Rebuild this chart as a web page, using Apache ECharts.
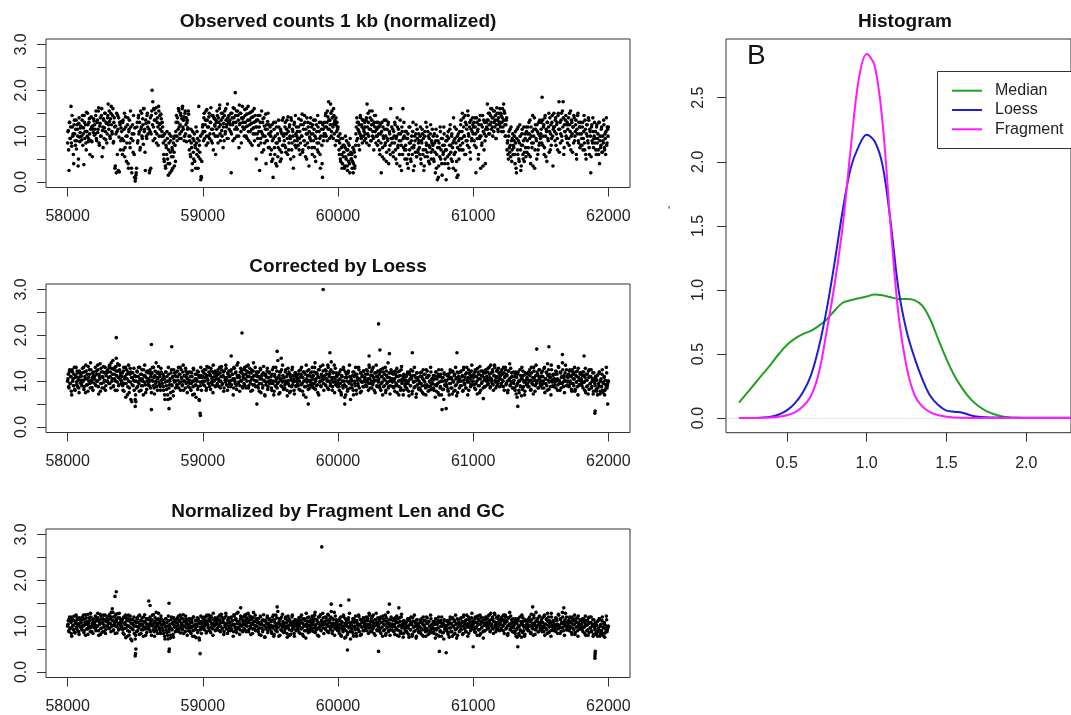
<!DOCTYPE html>
<html><head><meta charset="utf-8">
<script src="https://cdn.jsdelivr.net/npm/echarts@6/dist/echarts.min.js"></script>
<style>html,body{margin:0;padding:0;background:#fff}#c{width:1071px;height:715px}</style>
</head><body><div id="c"></div>
<script>
// ---------- data ----------
const binStart = 58000, binStep = 5, binOffset2 = 2.5;   // genomic bin positions (two interleaved passes)
const posTicks = [58000, 59000, 60000, 61000, 62000];
const valTicks = [0, 0.5, 1, 1.5, 2, 2.5, 3];
const valLabels = [0, 1, 2, 3];
const densXTicks = [0.5, 1, 1.5, 2];
const densYTicks = [0, 0.5, 1, 1.5, 2, 2.5];
const panelTitles = ['Observed counts 1 kb (normalized)', 'Corrected by Loess', 'Normalized by Fragment Len and GC', 'Histogram'];
const legendNames = ['Median', 'Loess', 'Fragment'];

const observed = [
0.85,1.12,0.25,1.3,0.95,1.65,0.78,1.2,1.05,0.4,1.35,0.9,1.15,0.72,1.25,1.0,0.5,1.4,0.88,1.18,
1.2,0.92,1.45,1.05,0.38,1.3,1.1,0.85,1.52,1.0,1.25,0.95,1.38,0.6,1.15,1.42,0.88,1.22,1.08,1.33,
1.25,1.05,1.55,0.9,1.35,1.15,1.62,0.8,1.28,1.0,1.45,0.55,1.2,1.38,0.95,1.5,1.1,1.3,0.85,1.4,
1.7,1.15,1.32,0.95,1.5,1.25,1.05,1.6,0.88,1.4,0.3,1.22,0.2,1.1,1.45,0.25,0.98,1.3,0.7,1.18,
1.1,0.6,1.35,0.9,1.5,0.75,1.2,0.45,1.0,1.4,0.3,1.15,0.85,1.55,0.95,0.2,1.25,0.65,1.05,0.1,
0.02,0.15,0.3,1.3,0.9,1.45,1.1,0.7,1.55,1.2,1.0,1.38,0.82,1.6,1.15,0.25,1.28,0.95,1.5,1.05,
1.3,0.2,1.1,0.3,1.45,2.0,1.75,1.2,1.58,0.95,1.35,1.62,1.05,1.4,0.8,1.55,1.25,1.15,1.48,1.0,
1.3,1.0,0.6,0.45,0.9,0.3,0.75,1.1,0.5,0.15,0.85,0.4,0.65,1.0,0.25,0.7,0.55,0.95,0.35,0.8,
1.1,1.45,0.9,1.3,1.6,1.2,1.05,1.5,0.95,1.38,1.65,1.15,1.42,1.0,1.55,1.25,0.88,1.35,1.18,1.48,
0.7,1.0,0.55,0.85,0.25,1.1,0.65,0.9,0.45,0.75,1.2,0.6,0.95,0.3,1.65,0.8,0.5,0.05,0.1,1.05,
1.25,0.9,1.5,1.1,1.35,0.8,1.58,1.2,1.0,1.42,0.95,1.3,1.62,1.15,0.85,1.45,1.05,1.38,1.22,0.6,
1.3,1.55,1.0,1.4,1.2,1.68,0.9,1.35,1.12,1.5,0.75,1.28,1.45,1.05,1.6,1.2,0.95,1.4,1.3,1.15,
1.35,1.1,0.2,1.5,1.25,1.62,1.4,0.95,1.95,1.3,1.55,1.15,1.45,1.0,1.68,1.28,1.5,0.85,1.38,1.2,
1.4,1.15,1.58,1.3,1.0,1.48,1.22,1.65,0.9,1.35,1.1,1.52,1.28,0.8,1.42,1.18,1.6,1.05,1.32,0.5,
1.2,0.95,1.45,1.1,0.25,1.3,0.85,1.55,1.05,1.38,0.7,1.22,1.0,1.48,0.9,1.15,1.32,0.75,1.25,1.05,
0.6,1.1,0.45,0.9,0.1,1.3,0.75,1.0,0.4,1.2,0.85,0.55,1.35,0.95,0.7,1.15,0.5,1.05,0.8,1.4,
1.05,0.8,1.3,0.65,1.15,0.95,1.42,0.7,1.2,1.0,0.5,1.35,0.85,1.1,0.3,1.25,0.9,1.45,0.75,1.0,
1.1,0.8,1.38,0.95,0.6,1.25,1.0,1.48,0.7,1.15,0.9,1.3,0.55,1.05,1.4,0.85,1.2,0.35,0.98,1.28,
0.9,1.2,0.6,1.05,1.35,0.75,1.0,0.45,1.25,0.85,1.45,0.65,1.1,0.95,0.3,1.3,0.8,0.1,1.15,1.0,
1.3,1.05,1.5,1.2,0.9,1.42,1.75,1.15,1.35,1.7,1.0,1.55,1.25,0.95,1.45,1.3,0.8,1.4,1.1,1.2,
1.2,0.9,0.6,1.05,0.45,0.75,0.3,0.95,0.55,0.8,0.35,1.0,0.5,0.7,0.25,0.85,0.6,0.4,0.95,0.65,
0.5,0.3,0.75,0.4,0.65,0.35,0.8,1.2,1.4,0.95,1.3,1.1,0.7,1.45,1.0,1.25,0.85,1.35,1.15,0.9,
1.2,0.95,1.4,1.7,1.05,1.3,0.8,1.55,1.15,0.9,1.35,1.0,1.25,0.7,1.45,1.1,0.85,1.3,1.0,1.2,
0.9,1.2,0.6,1.05,0.2,1.3,0.75,1.0,0.5,1.15,0.85,1.35,0.65,0.95,1.25,0.4,1.1,0.8,1.6,0.95,
0.85,1.15,0.55,1.0,1.3,0.7,0.95,0.4,1.2,0.8,1.05,0.6,1.35,0.9,0.25,1.1,1.6,0.75,1.0,0.5,
0.8,1.1,0.5,0.95,0.3,1.2,0.7,0.85,0.45,1.0,0.6,1.3,0.75,0.35,0.9,1.05,0.55,1.15,0.65,0.85,
0.9,0.6,1.2,0.4,0.85,1.05,0.7,0.25,1.0,0.55,1.3,0.8,0.65,1.1,0.45,0.95,0.75,1.25,0.5,0.85,
0.7,1.0,0.45,0.85,0.2,1.15,0.6,0.05,0.9,0.35,0.75,1.2,0.5,0.95,0.15,0.8,0.65,1.05,0.4,0.7,
0.05,0.9,0.55,1.1,0.3,0.8,1.25,0.65,1.0,0.45,0.85,1.4,0.6,0.95,0.25,1.15,0.1,0.75,1.05,0.5,
1.1,0.8,1.35,0.95,1.5,0.7,1.2,1.0,1.45,0.6,1.25,0.9,1.55,1.05,0.75,1.3,0.5,1.15,0.95,1.4,
1.05,1.3,0.8,1.2,0.2,1.4,0.95,1.15,0.6,1.35,1.0,0.3,1.25,0.85,1.45,1.1,0.7,1.3,0.4,1.0,
1.2,1.7,1.35,1.05,1.5,1.25,1.6,1.15,1.4,1.0,1.55,1.3,1.2,1.45,0.95,1.62,1.35,1.1,1.5,1.25,
1.3,1.5,1.1,1.4,1.2,1.7,1.55,1.25,1.0,1.35,0.7,0.9,0.5,1.1,0.65,0.8,1.2,0.45,0.95,0.6,
0.75,1.0,0.4,0.85,0.2,1.15,0.6,0.9,0.45,1.25,0.7,0.35,1.05,0.8,0.5,1.2,0.65,0.95,0.55,1.1,
0.9,1.2,0.6,1.05,1.35,0.4,1.0,0.75,1.45,0.85,1.15,0.3,1.25,0.95,0.5,1.1,0.7,1.3,0.85,1.0,
1.05,1.3,1.85,0.8,1.2,0.6,1.4,1.0,1.15,0.45,1.3,0.9,1.5,1.1,0.7,1.25,0.95,1.45,0.35,1.2,
1.2,0.9,1.4,1.05,1.3,0.7,1.5,1.75,1.15,0.85,1.35,1.0,1.55,1.75,0.6,1.25,1.1,1.45,0.95,1.3,
1.15,1.4,0.8,1.25,1.55,1.0,1.3,0.65,1.2,1.45,0.9,1.1,1.35,0.5,1.05,1.5,0.85,1.2,0.75,1.3,
1.05,0.8,1.3,0.95,1.45,0.7,1.15,0.5,1.25,1.0,0.85,1.35,0.6,1.1,0.2,1.2,0.9,1.4,0.75,1.0,
0.85,1.1,0.6,1.25,0.95,0.7,1.3,0.4,1.0,0.8,1.2,0.65,0.9,1.35,0.75,1.05,0.6,1.4,0.85,1.15,
1.2];
const observed2 = [
1.1,0.7,1.3,0.95,1.2,0.85,1.45,1.0,0.6,1.25,1.05,0.8,1.35,0.9,1.15,0.35,1.28,0.98,1.08,1.22,
1.0,1.35,0.8,1.18,1.45,0.95,1.25,0.7,1.1,1.5,0.88,1.3,1.05,1.4,0.9,1.2,0.55,1.15,1.38,1.02,
1.15,1.45,0.95,1.3,1.08,1.55,0.85,1.22,1.4,1.0,1.6,1.12,0.75,1.35,1.18,1.5,0.92,1.28,1.05,1.45,
1.25,1.55,1.0,1.38,1.65,1.1,1.45,0.85,1.3,1.2,0.35,1.05,1.5,0.6,1.15,1.4,0.22,1.25,0.9,1.32,
0.95,1.3,0.7,1.15,0.55,1.42,1.0,0.85,1.25,0.4,1.1,1.35,0.75,1.2,0.3,1.05,0.9,1.45,0.6,1.18,
0.08,0.2,1.2,0.85,1.4,1.05,1.3,0.75,1.15,1.5,0.95,1.25,1.6,1.1,0.65,1.35,1.0,1.45,1.2,1.3,
1.15,0.25,1.4,1.05,1.55,1.25,0.9,1.6,1.35,1.1,1.5,0.85,1.3,1.2,1.65,1.0,1.45,1.28,1.38,1.1,
1.2,0.85,0.5,1.05,0.35,0.8,0.6,0.95,0.4,0.7,1.05,0.2,0.9,0.55,0.75,0.3,0.85,0.65,1.0,0.45,
1.3,1.0,1.4,1.15,1.55,0.95,1.25,1.45,1.1,1.6,1.2,1.35,0.9,1.5,1.05,1.4,1.3,1.15,1.55,1.0,
0.9,0.6,1.15,0.75,0.4,0.95,0.5,1.05,0.8,0.3,0.85,1.1,0.7,0.55,0.9,0.65,1.0,0.12,0.45,1.2,
1.1,1.4,0.95,1.25,1.55,1.0,1.35,0.85,1.2,1.5,1.05,1.3,0.9,1.45,1.15,0.7,1.4,1.25,1.0,1.35,
1.15,1.45,0.85,1.3,1.6,1.05,1.25,1.5,1.0,1.4,1.2,0.9,1.55,1.1,1.35,1.25,1.7,0.95,1.45,1.3,
1.25,1.5,1.05,1.4,0.9,1.3,1.6,1.15,1.45,1.2,1.0,1.55,1.35,0.75,1.25,1.5,1.1,1.4,1.65,1.3,
1.3,1.0,1.45,1.2,1.6,0.95,1.35,1.1,1.5,1.25,0.85,1.4,1.15,1.55,1.05,1.3,0.9,1.45,1.2,1.35,
1.05,1.35,0.8,1.2,1.45,0.95,1.1,0.65,1.3,1.0,1.4,0.85,1.15,0.4,1.25,0.9,1.5,1.05,0.75,1.2,
1.0,0.7,1.25,0.5,0.95,1.15,0.6,1.3,0.85,0.35,1.05,0.75,1.2,0.9,0.45,1.1,0.65,1.35,0.8,1.0,
0.9,1.2,0.75,1.05,1.35,0.6,1.1,0.85,1.25,0.95,1.4,0.7,1.15,1.0,0.55,1.3,0.8,1.05,1.2,0.9,
0.95,1.2,0.7,1.1,0.85,1.35,1.0,0.65,1.25,0.9,1.45,0.8,1.15,0.5,1.05,1.3,0.75,1.1,0.95,1.4,
1.05,0.75,1.25,0.9,1.15,0.55,1.35,0.95,1.1,0.7,1.2,0.85,1.3,0.6,1.0,1.15,0.4,1.25,0.9,1.05,
1.2,1.45,1.0,1.3,1.55,1.15,1.35,0.95,1.25,1.5,1.1,1.4,1.2,1.6,1.05,1.35,1.25,0.9,1.3,1.15,
1.0,0.7,0.85,0.5,0.95,0.6,0.4,0.8,0.65,0.3,0.75,0.55,0.9,0.35,0.7,0.45,0.8,0.2,0.6,0.5,
0.6,0.45,0.2,0.7,0.3,0.55,1.05,0.9,1.3,1.15,0.8,1.25,1.05,1.4,0.95,1.2,1.35,1.0,1.1,1.3,
1.05,1.35,0.85,1.2,1.5,1.0,1.15,1.4,0.9,1.25,1.55,1.1,0.95,1.3,1.2,1.45,1.0,1.15,0.8,1.3,
1.05,0.7,1.25,0.85,1.1,0.55,1.2,0.95,1.35,0.8,1.0,0.45,1.15,0.9,1.3,0.7,1.05,0.6,0.95,1.2,
0.95,0.65,1.1,0.85,1.25,0.5,1.0,1.4,0.75,1.15,0.9,0.35,1.05,0.8,1.2,0.6,0.95,1.3,0.7,1.1,
0.7,0.95,0.4,1.05,0.6,0.85,1.2,0.5,0.9,0.75,1.1,0.25,0.8,1.0,0.65,1.25,0.55,0.95,0.7,1.05,
0.75,1.0,0.5,0.9,1.15,0.6,0.95,0.35,1.1,0.7,0.85,1.2,0.55,1.0,0.8,0.4,1.05,0.65,0.9,1.15,
0.8,0.5,1.05,0.65,0.9,0.3,1.0,0.75,0.1,0.85,0.55,1.1,0.7,0.4,0.95,0.6,1.2,0.8,0.5,0.9,
0.7,1.0,0.4,0.95,0.6,1.15,0.8,0.5,1.05,0.75,0.3,0.9,1.2,0.65,0.85,0.45,1.0,0.15,0.9,0.7,
0.95,1.25,0.7,1.1,0.85,1.4,1.0,0.6,1.3,0.9,1.15,0.8,1.45,1.0,1.2,0.65,1.35,0.9,1.1,1.25,
1.2,0.9,1.4,1.05,0.75,1.3,1.1,0.5,1.25,0.95,1.45,1.0,0.8,1.2,0.35,1.35,1.05,0.9,1.15,1.3,
1.35,1.15,1.5,1.25,1.05,1.45,1.3,1.6,1.2,1.4,1.1,1.55,1.35,0.95,1.25,1.5,1.15,1.4,1.3,1.6,
1.2,1.45,1.3,1.6,1.1,1.35,1.5,1.0,1.25,1.4,0.85,0.6,1.0,0.75,1.15,0.55,0.9,0.7,1.05,0.8,
0.9,0.6,1.1,0.3,0.95,0.7,1.2,0.5,0.85,1.0,0.25,0.8,1.15,0.6,0.9,0.45,1.05,0.75,1.2,0.65,
1.05,0.75,1.3,0.95,0.55,1.2,0.85,1.1,0.35,1.0,1.4,0.7,1.15,0.9,1.25,0.6,1.05,0.8,1.35,0.95,
1.15,0.85,1.35,1.0,1.25,0.75,1.45,0.55,1.1,1.3,0.95,1.2,0.65,1.4,1.05,0.8,1.3,1.0,1.15,1.5,
1.1,1.35,0.8,1.25,0.95,1.45,1.15,0.65,1.3,1.05,1.5,0.9,1.2,1.4,0.75,1.1,1.35,1.0,1.25,0.85,
1.25,0.95,1.5,1.1,0.7,1.35,1.05,1.2,0.85,1.4,1.0,1.25,0.6,1.15,1.45,0.9,1.3,1.05,1.2,0.8,
0.95,1.2,0.7,1.1,0.85,1.35,0.6,1.05,1.25,0.9,1.4,0.75,1.15,1.0,0.55,1.25,0.85,1.1,0.95,1.3,
0.95,0.7,1.2,0.85,1.05,0.6,1.3,0.9,0.75,1.15,0.65,1.0,0.85,1.25,0.7,0.95,1.1,0.8,1.2,1.0];

const loess = [
1.0,1.15,0.85,1.25,0.95,1.1,0.7,1.2,1.05,0.9,1.3,0.8,1.12,0.98,1.22,0.88,1.08,0.75,1.18,1.02,
1.1,0.9,1.28,1.0,0.82,1.2,1.05,1.35,0.92,1.15,0.78,1.08,1.25,0.95,1.4,1.02,0.86,1.18,1.12,0.96,
1.05,1.3,0.9,1.15,1.0,1.25,0.72,1.1,1.38,0.95,1.2,0.85,1.08,1.32,0.98,1.18,0.8,1.12,1.22,1.0,
1.2,0.95,1.35,1.1,0.85,1.28,1.05,1.45,0.9,1.15,1.3,1.0,1.22,0.8,1.38,1.08,0.92,1.25,1.12,1.02,
1.0,1.18,0.8,1.3,0.95,1.1,0.65,1.25,1.05,0.88,1.35,0.75,1.15,0.98,1.2,0.55,1.08,0.9,1.28,1.0,
0.6,1.1,0.85,1.2,0.98,1.3,0.78,1.05,1.15,0.9,1.25,1.0,0.7,1.12,1.35,0.92,1.08,0.82,1.22,1.02,
1.05,0.9,1.25,1.1,0.75,1.18,1.0,1.3,0.85,1.12,0.95,1.4,1.08,0.8,1.2,0.98,1.15,0.88,1.28,1.02,
0.95,1.15,0.8,1.05,0.6,1.2,0.9,1.1,0.7,1.3,0.85,1.0,0.62,1.18,0.92,1.08,0.78,1.25,0.98,1.12,
1.0,1.2,0.88,1.1,1.3,0.95,1.15,0.8,1.25,1.05,0.92,1.35,1.0,1.12,0.85,1.22,1.08,0.75,1.18,0.98,
1.02,0.85,1.2,0.95,1.1,0.7,1.28,1.0,0.9,1.15,0.65,1.05,1.22,0.88,1.12,0.58,0.98,1.3,0.8,1.08,
1.1,0.92,1.25,1.0,1.15,0.8,1.32,1.05,0.95,1.2,0.88,1.12,1.28,0.98,1.08,0.75,1.18,1.02,1.22,0.9,
1.05,1.2,0.9,1.15,1.0,1.3,0.85,1.1,1.25,0.95,1.12,0.78,1.22,1.02,1.35,0.92,1.08,1.18,0.88,1.0,
1.1,0.88,1.25,1.02,1.15,0.7,1.3,1.05,0.95,1.2,0.82,1.12,1.4,0.98,1.08,0.9,1.28,1.0,1.18,0.85,
1.15,0.95,1.3,1.05,0.85,1.22,1.1,1.35,0.9,1.18,1.0,0.78,1.25,1.08,0.92,1.4,1.02,1.12,0.88,1.2,
1.0,1.2,0.85,1.1,0.95,1.28,0.75,1.05,1.15,0.9,1.32,1.0,0.68,1.12,0.98,1.22,0.82,1.08,1.18,0.95,
0.95,1.1,0.8,1.25,1.0,0.7,1.15,0.9,1.3,1.05,0.85,1.45,0.98,1.12,0.75,1.2,1.02,0.88,1.35,1.08,
1.0,0.85,1.2,0.95,1.1,0.68,1.28,1.02,0.9,1.15,0.78,1.05,1.25,0.92,1.12,0.8,1.0,1.18,0.88,1.08,
1.05,0.9,1.22,1.0,0.8,1.15,1.3,0.95,1.08,0.7,1.2,1.02,0.88,1.35,0.98,1.12,0.82,1.25,1.0,0.92,
1.1,0.95,1.3,1.05,0.85,1.2,1.4,1.0,0.9,1.15,0.75,1.25,1.08,0.98,1.32,0.88,1.12,1.02,1.22,0.8,
1.05,1.25,0.9,1.15,1.0,1.35,0.82,1.1,1.2,0.95,1.42,1.02,0.88,1.18,1.08,0.75,1.28,0.98,1.12,1.0,
0.95,1.15,0.8,1.05,1.25,0.7,1.1,0.9,1.3,1.0,0.65,1.2,0.88,1.08,0.78,1.18,0.98,1.35,0.85,1.02,
1.0,0.85,1.2,0.7,1.1,0.95,1.3,0.8,1.15,1.02,0.9,1.25,1.05,0.75,1.18,0.98,1.12,0.88,1.22,1.0,
1.08,0.92,1.25,1.0,1.15,0.8,1.35,1.05,0.95,1.2,0.85,1.12,1.3,0.98,1.02,0.75,1.18,1.1,0.88,1.22,
1.0,1.15,0.85,1.25,0.95,1.1,0.7,1.2,1.05,0.9,1.3,0.8,1.12,0.98,1.4,0.88,1.08,0.72,1.18,1.02,
1.05,0.88,1.2,1.0,0.78,1.15,0.95,1.28,0.9,1.1,0.7,1.22,1.02,0.85,1.32,0.98,1.12,0.8,1.08,0.92,
0.95,1.1,0.82,1.2,1.0,0.68,1.15,0.9,1.25,1.05,0.78,1.12,0.98,1.3,0.88,1.08,0.72,1.18,1.02,0.85,
1.0,0.85,1.18,0.95,1.1,0.75,1.25,1.02,0.9,1.15,0.7,1.08,1.22,0.88,1.12,0.8,0.98,1.3,0.92,1.05,
0.95,1.12,0.8,1.05,0.65,1.2,0.9,1.1,0.75,1.25,0.98,0.85,1.15,0.7,1.08,1.0,0.82,1.18,0.92,1.02,
1.0,0.88,1.15,0.78,1.1,0.95,1.25,0.85,1.05,0.72,1.2,0.98,1.12,0.8,1.3,0.92,1.08,0.75,1.18,1.02,
1.05,0.9,1.22,1.0,1.12,0.8,1.3,0.95,1.08,0.85,1.18,1.02,0.7,1.25,0.98,1.15,0.88,1.1,1.35,0.92,
1.0,1.15,0.85,1.25,0.95,1.1,0.72,1.2,1.05,0.9,1.32,0.8,1.12,0.98,1.22,0.62,1.08,0.88,1.18,1.02,
1.1,0.92,1.28,1.02,1.15,0.85,1.35,1.05,0.95,1.2,0.8,1.12,1.3,0.98,1.08,0.9,1.25,1.0,1.18,0.88,
1.05,1.2,0.9,1.15,1.0,1.3,0.8,1.1,1.25,0.95,1.12,0.75,1.22,1.02,1.38,0.92,1.08,1.18,0.85,1.0,
0.95,1.1,0.8,1.2,0.9,0.65,1.15,1.0,0.75,1.25,0.88,1.05,1.3,0.82,1.12,0.98,0.7,1.18,1.02,0.92,
1.05,0.88,1.2,1.0,1.12,0.8,1.3,0.95,1.08,0.72,1.22,1.02,0.9,1.35,0.98,1.15,0.85,1.1,1.25,0.95,
1.0,1.18,0.85,1.1,0.95,1.28,0.75,1.05,1.2,0.9,1.38,1.02,0.82,1.15,1.08,0.7,1.25,0.98,1.12,0.88,
1.05,0.92,1.22,1.0,1.15,0.8,1.32,1.02,0.95,1.2,0.85,1.1,1.4,0.98,1.08,0.75,1.18,1.0,1.25,0.9,
1.0,1.15,0.88,1.25,0.95,1.1,0.78,1.2,1.05,0.9,1.3,0.82,1.12,0.98,1.22,0.7,1.08,0.92,1.18,1.02,
1.05,0.9,1.2,0.98,1.12,0.8,1.28,1.02,0.88,1.15,0.72,1.08,1.25,0.95,1.1,0.85,1.0,1.18,0.78,1.05,
0.95,1.1,0.82,1.02,0.7,1.15,0.9,1.2,0.78,1.05,0.88,1.25,0.75,0.98,1.1,0.8,0.92,1.3,0.85,0.95,
1.0];
const loess2 = [
1.05,0.88,1.2,0.95,1.1,0.78,1.25,1.0,0.9,1.15,0.82,1.08,1.3,0.92,1.18,1.02,0.85,1.22,0.96,1.12,
0.95,1.18,1.02,1.3,0.88,1.1,0.75,1.22,1.05,0.92,1.32,1.0,1.15,0.85,1.25,0.98,1.08,0.8,1.2,1.05,
1.12,0.92,1.22,1.0,1.35,0.88,1.15,1.05,0.78,1.28,0.95,1.1,1.2,0.85,1.02,1.3,0.9,1.18,1.0,1.25,
1.08,1.3,0.95,1.2,1.4,1.0,1.15,0.88,1.25,1.05,0.8,1.32,1.12,0.98,1.22,0.9,1.35,1.05,1.18,0.95,
1.1,0.9,1.22,0.78,1.05,1.3,0.95,1.15,0.7,1.2,1.0,0.85,1.28,0.6,1.08,0.92,1.18,1.02,0.8,1.12,
0.7,1.0,1.22,0.88,1.1,0.95,1.3,1.02,0.8,1.15,1.05,0.9,1.25,0.98,1.12,0.75,1.2,1.0,0.92,1.18,
0.98,1.2,0.85,1.15,1.02,1.3,0.9,1.08,0.72,1.22,1.0,0.88,1.18,1.05,1.32,0.92,1.1,0.8,1.2,0.95,
1.05,0.88,1.1,0.7,0.98,1.2,0.82,1.0,0.6,1.15,0.92,1.05,0.75,1.25,0.9,1.1,0.68,1.02,1.18,0.85,
1.1,0.92,1.22,1.02,0.85,1.15,1.3,0.98,1.08,0.9,1.2,0.8,1.12,1.0,1.28,0.95,1.15,1.05,0.88,1.2,
0.95,1.1,0.8,1.18,1.0,0.88,1.25,0.72,1.05,0.92,1.15,1.0,0.82,1.2,0.6,1.08,0.9,1.12,0.98,1.22,
1.0,1.18,0.9,1.08,1.25,0.85,1.12,1.02,1.3,0.95,1.15,0.82,1.22,1.05,0.92,1.35,1.0,1.1,0.88,1.15,
1.12,0.95,1.25,1.05,0.88,1.18,1.0,1.32,0.92,1.1,1.2,0.85,1.08,0.98,1.28,1.02,0.8,1.15,1.22,0.95,
1.0,1.22,0.92,1.15,1.05,0.85,1.28,1.0,1.18,0.9,1.35,1.08,0.95,1.12,0.78,1.2,1.02,1.25,0.88,1.1,
1.05,1.25,0.9,1.15,1.32,1.0,1.2,0.85,1.1,1.28,0.95,1.18,1.05,0.8,1.22,1.12,0.92,1.3,1.0,1.15,
1.1,0.9,1.2,0.78,1.05,1.25,0.95,1.12,0.85,1.18,1.02,0.7,1.15,0.92,1.08,1.28,0.88,1.0,1.2,0.95,
1.02,0.85,1.15,0.95,1.3,0.78,1.1,1.0,0.88,1.22,0.95,1.08,0.72,1.2,1.05,0.9,1.25,0.98,1.12,0.82,
1.08,0.92,1.25,1.0,0.8,1.15,0.95,1.2,0.75,1.1,1.02,0.88,1.3,0.98,1.05,0.72,1.18,0.9,1.12,1.0,
0.95,1.15,0.82,1.08,1.25,0.92,1.1,0.78,1.2,1.0,0.88,1.15,0.65,1.05,1.22,0.9,1.12,1.02,0.85,1.18,
1.02,1.2,0.88,1.12,0.95,1.3,0.82,1.05,1.18,0.92,1.1,0.7,1.25,1.0,0.9,1.15,1.05,1.35,0.95,1.1,
1.12,0.92,1.22,1.05,0.85,1.3,1.0,1.15,0.9,1.25,1.08,0.8,1.2,0.98,1.35,1.05,0.92,1.18,1.1,0.88,
1.02,0.88,1.2,0.95,0.75,1.12,1.0,0.85,1.25,0.92,1.08,0.7,1.15,1.0,0.82,1.22,0.95,1.1,0.6,1.05,
0.92,1.12,0.8,1.2,1.0,0.9,1.15,0.72,1.08,0.95,1.3,0.85,1.02,1.18,0.78,1.1,0.98,1.22,0.88,1.05,
1.15,1.0,0.88,1.22,1.05,0.95,1.3,0.85,1.12,1.0,1.25,0.92,1.08,0.8,1.18,1.02,1.35,0.9,1.1,0.98,
1.05,0.9,1.2,0.8,1.1,0.98,1.28,0.88,1.15,1.02,0.75,1.22,0.95,1.08,0.85,1.18,1.0,0.9,1.25,1.05,
0.98,1.15,0.85,1.05,1.22,0.9,1.1,0.75,1.2,1.0,0.88,1.12,0.8,1.25,0.95,1.05,0.7,1.15,1.02,0.88,
1.02,0.85,1.15,0.95,0.78,1.2,1.05,0.9,1.1,0.72,1.22,0.98,0.85,1.12,1.0,0.65,1.18,0.92,1.08,0.82,
0.95,1.1,0.8,1.2,0.9,1.05,0.72,1.15,0.98,0.85,1.25,0.92,1.08,0.78,1.12,1.0,0.88,1.2,0.82,1.05,
1.02,0.85,1.12,0.92,1.2,0.78,1.05,0.95,1.15,0.7,1.1,0.88,1.0,1.25,0.82,1.08,0.6,1.15,0.9,1.0,
0.92,1.12,0.82,1.05,0.7,1.18,0.95,1.08,0.85,1.22,1.0,0.78,1.15,0.9,1.05,0.68,1.2,0.98,1.1,0.85,
1.0,1.2,0.9,1.1,0.78,1.25,1.02,0.92,1.15,0.85,1.3,0.98,1.08,0.8,1.18,1.05,0.92,1.22,1.0,1.12,
1.08,0.92,1.2,0.82,1.1,1.0,1.28,0.9,1.15,0.75,1.05,1.22,0.95,1.12,0.85,1.18,1.02,0.88,1.25,1.0,
1.05,1.2,0.95,1.3,1.08,0.88,1.18,1.0,1.25,0.92,1.12,1.35,1.02,0.85,1.22,1.1,0.95,1.28,1.05,1.15,
1.12,0.95,1.25,1.02,0.88,1.18,1.08,1.3,0.92,1.15,1.0,0.8,1.22,1.05,0.9,1.28,0.98,1.1,0.85,1.2,
1.02,0.85,1.15,0.72,1.08,0.95,1.2,0.8,1.0,0.9,1.12,0.68,1.05,1.22,0.88,1.0,0.78,1.15,0.95,1.08,
0.95,1.15,0.88,1.25,1.02,0.82,1.18,1.0,0.92,1.3,1.08,0.78,1.12,0.95,1.2,1.02,0.85,1.25,1.05,0.9,
1.1,0.92,1.22,1.0,0.85,1.3,1.05,0.95,1.18,0.8,1.12,1.25,0.98,1.08,0.88,1.35,1.02,0.9,1.15,1.05,
0.98,1.15,0.85,1.2,1.05,0.92,1.3,1.0,0.8,1.18,1.08,0.95,1.25,0.88,1.12,1.02,1.35,0.9,1.1,0.98,
1.08,0.9,1.22,1.0,1.12,0.82,1.25,0.95,1.15,1.05,0.78,1.2,0.98,1.1,0.88,1.28,1.02,0.92,1.15,1.0,
0.95,1.12,0.85,1.2,0.98,1.08,0.75,1.15,1.02,0.9,1.22,0.82,1.1,0.95,1.25,0.88,1.05,0.72,1.18,1.0,
0.9,1.05,0.78,1.12,0.85,0.95,1.2,0.72,1.0,0.88,1.15,0.8,0.95,1.08,0.7,1.02,0.85,1.18,0.9,1.0];
const loessOutliers = [
[58360,1.95],[58620,1.8],[58770,1.75],[59290,2.05],[59890,3.0],[60300,2.25],[60310,1.68],[61560,1.75],
[61470,1.7],[59550,1.65],[59940,1.62],[60550,1.62],[60880,1.62],[58360,1.5],[59580,1.5],[59210,1.55],
[60230,1.55],[60380,1.6],[61820,1.55],[61660,1.58],[58500,0.45],[58505,0.55],[58620,0.38],[58750,0.4],
[58980,0.3],[58982,0.25],[59400,0.5],[59780,0.5],[60050,0.5],[60770,0.38],[60800,0.4],[61330,0.45],
[61900,0.3],[61902,0.35],[61995,0.5]];

const fragment = [
1.0,1.12,0.88,1.2,0.95,1.08,0.78,1.15,1.02,0.92,1.22,0.85,1.1,0.98,1.18,0.9,1.05,0.82,1.14,1.0,
1.08,0.92,1.2,1.0,0.86,1.15,1.03,1.25,0.94,1.1,0.82,1.06,1.18,0.96,1.28,1.0,0.88,1.14,1.08,0.97,
1.04,1.22,0.9,1.12,1.0,1.18,0.8,1.08,1.26,0.95,1.15,0.87,1.06,1.24,0.98,1.13,0.84,1.1,1.17,1.0,
1.12,0.95,1.25,1.06,0.88,1.2,1.02,1.3,0.92,1.1,1.22,1.0,1.15,0.85,1.27,1.05,0.93,1.18,1.08,1.0,
1.0,1.14,0.85,1.2,0.95,1.08,0.75,1.18,1.02,0.9,1.24,0.8,1.1,0.97,1.15,0.68,1.05,0.92,1.2,1.0,
0.72,1.08,0.88,1.15,0.98,1.22,0.82,1.04,1.12,0.92,1.18,1.0,0.78,1.1,1.25,0.94,1.06,0.86,1.16,1.02,
1.04,0.92,1.2,1.08,0.8,1.14,1.0,1.25,0.88,1.1,0.96,1.3,1.06,0.84,1.16,0.98,1.12,0.9,1.22,1.02,
0.96,1.12,0.84,1.04,0.72,1.16,0.92,1.08,0.8,1.22,0.88,1.0,0.74,1.14,0.94,1.06,0.82,1.18,0.98,1.1,
1.0,1.15,0.9,1.08,1.22,0.95,1.12,0.85,1.18,1.04,0.93,1.25,1.0,1.1,0.88,1.16,1.06,0.8,1.13,0.98,
1.02,0.88,1.16,0.96,1.08,0.78,1.2,1.0,0.92,1.12,0.75,1.04,1.18,0.9,1.1,0.7,0.98,1.22,0.84,1.06,
1.08,0.94,1.2,1.0,1.12,0.85,1.24,1.04,0.96,1.16,0.9,1.1,1.22,0.98,1.06,0.8,1.14,1.02,1.18,0.92,
1.04,1.16,0.92,1.12,1.0,1.24,0.88,1.08,1.2,0.96,1.1,0.82,1.18,1.02,1.28,0.94,1.06,1.14,0.9,1.0,
1.08,0.9,1.2,1.02,1.12,0.78,1.25,1.04,0.96,1.16,0.86,1.1,1.3,0.98,1.06,0.92,1.22,1.0,1.14,0.88,
1.12,0.96,1.24,1.04,0.88,1.18,1.08,1.28,0.92,1.14,1.0,0.82,1.2,1.06,0.94,1.3,1.02,1.1,0.9,1.16,
1.0,1.16,0.88,1.08,0.96,1.22,0.8,1.04,1.12,0.92,1.25,1.0,0.76,1.1,0.98,1.18,0.86,1.06,1.14,0.95,
0.96,1.1,0.84,1.2,1.0,0.78,1.14,0.92,1.24,1.04,0.88,1.32,0.98,1.1,0.8,1.16,1.02,0.9,1.26,1.06,
1.0,0.88,1.16,0.96,1.08,0.76,1.22,1.02,0.92,1.12,0.82,1.04,1.2,0.94,1.1,0.84,1.0,1.14,0.9,1.06,
1.04,0.92,1.18,1.0,0.84,1.12,1.24,0.96,1.06,0.78,1.16,1.02,0.9,1.28,0.98,1.1,0.86,1.2,1.0,0.94,
1.08,0.96,1.22,1.04,0.88,1.16,1.3,1.0,0.92,1.12,0.8,1.2,1.06,0.98,1.25,0.9,1.1,1.02,1.18,0.84,
1.04,1.2,0.92,1.12,1.0,1.26,0.86,1.08,1.16,0.96,1.32,1.02,0.9,1.14,1.06,0.8,1.22,0.98,1.1,1.0,
0.96,1.12,0.84,1.04,1.2,0.78,1.08,0.92,1.24,1.0,0.74,1.16,0.9,1.06,0.82,1.14,0.98,1.28,0.88,1.02,
1.0,0.88,1.16,0.78,1.08,0.96,1.22,0.84,1.12,1.02,0.92,1.2,1.04,0.8,1.14,0.98,1.1,0.9,1.18,1.0,
1.06,0.94,1.2,1.0,1.12,0.84,1.28,1.04,0.96,1.16,0.88,1.1,1.24,0.98,1.02,0.8,1.14,1.08,0.9,1.18,
1.0,1.12,0.88,1.2,0.96,1.08,0.78,1.16,1.04,0.92,1.24,0.84,1.1,0.98,1.3,0.9,1.06,0.8,1.14,1.02,
1.04,0.9,1.16,1.0,0.82,1.12,0.96,1.22,0.92,1.08,0.78,1.18,1.02,0.88,1.26,0.98,1.1,0.84,1.06,0.94,
0.96,1.08,0.86,1.16,1.0,0.76,1.12,0.92,1.2,1.04,0.82,1.1,0.98,1.24,0.9,1.06,0.78,1.14,1.02,0.88,
1.0,0.88,1.14,0.96,1.08,0.8,1.2,1.02,0.92,1.12,0.78,1.06,1.18,0.9,1.1,0.84,0.98,1.24,0.94,1.04,
0.96,1.1,0.84,1.04,0.74,1.16,0.92,1.08,0.8,1.2,0.98,0.88,1.12,0.78,1.06,1.0,0.86,1.14,0.94,1.02,
1.0,0.9,1.12,0.82,1.08,0.96,1.2,0.88,1.04,0.78,1.16,0.98,1.1,0.84,1.24,0.94,1.06,0.8,1.14,1.02,
1.04,0.92,1.18,1.0,1.1,0.84,1.24,0.96,1.06,0.88,1.14,1.02,0.78,1.2,0.98,1.12,0.9,1.08,1.28,0.94,
1.0,1.12,0.88,1.2,0.96,1.08,0.8,1.16,1.04,0.92,1.24,0.84,1.1,0.98,1.18,0.74,1.06,0.9,1.14,1.02,
1.08,0.94,1.22,1.02,1.12,0.88,1.28,1.04,0.96,1.16,0.84,1.1,1.25,0.98,1.06,0.92,1.2,1.0,1.14,0.9,
1.04,1.16,0.92,1.12,1.0,1.24,0.84,1.08,1.2,0.96,1.1,0.8,1.18,1.02,1.3,0.94,1.06,1.14,0.88,1.0,
0.96,1.08,0.84,1.16,0.92,0.76,1.12,1.0,0.8,1.2,0.9,1.04,1.24,0.86,1.1,0.98,0.78,1.14,1.02,0.94,
1.04,0.9,1.16,1.0,1.1,0.84,1.26,0.96,1.06,0.8,1.18,1.02,0.92,1.3,0.98,1.12,0.88,1.08,1.22,0.96,
1.0,1.14,0.88,1.08,0.96,1.22,0.8,1.04,1.16,0.92,1.28,1.02,0.86,1.12,1.06,0.78,1.2,0.98,1.1,0.9,
1.04,0.94,1.18,1.0,1.12,0.84,1.26,1.02,0.96,1.16,0.88,1.08,1.3,0.98,1.06,0.8,1.14,1.0,1.2,0.92,
1.0,1.12,0.9,1.2,0.96,1.08,0.82,1.16,1.04,0.92,1.24,0.86,1.1,0.98,1.18,0.78,1.06,0.94,1.14,1.02,
1.04,0.92,1.16,0.98,1.1,0.84,1.22,1.02,0.9,1.12,0.8,1.06,1.2,0.96,1.08,0.88,1.0,1.14,0.82,1.04,
0.96,1.08,0.86,1.02,0.78,1.12,0.92,1.16,0.84,1.04,0.9,1.2,0.8,0.98,1.08,0.85,0.94,1.22,0.88,0.96,
1.0];
const fragment2 = [
1.04,0.9,1.16,0.96,1.1,0.84,1.2,1.0,0.92,1.12,0.86,1.06,1.24,0.94,1.14,1.02,0.88,1.18,0.98,1.08,
0.96,1.14,1.02,1.24,0.9,1.08,0.8,1.18,1.04,0.94,1.26,1.0,1.12,0.88,1.2,0.98,1.06,0.84,1.16,1.04,
1.1,0.94,1.18,1.0,1.28,0.9,1.12,1.04,0.82,1.22,0.96,1.08,1.16,0.88,1.02,1.24,0.92,1.14,1.0,1.2,
1.06,1.24,0.96,1.16,1.3,1.0,1.12,0.9,1.2,1.04,0.84,1.26,1.1,0.98,1.18,0.92,1.28,1.04,1.14,0.96,
1.08,0.92,1.18,0.82,1.04,1.24,0.96,1.12,0.78,1.16,1.0,0.88,1.22,0.72,1.06,0.94,1.14,1.02,0.84,1.1,
0.8,1.0,1.18,0.9,1.08,0.96,1.24,1.02,0.84,1.12,1.04,0.92,1.2,0.98,1.1,0.8,1.16,1.0,0.94,1.14,
0.98,1.16,0.88,1.12,1.02,1.24,0.92,1.06,0.78,1.18,1.0,0.9,1.14,1.04,1.28,0.94,1.08,0.84,1.16,0.96,
1.04,0.9,1.08,0.78,0.98,1.16,0.86,1.0,0.72,1.12,0.94,1.04,0.8,1.2,0.92,1.08,0.76,1.02,1.14,0.88,
1.08,0.94,1.18,1.02,0.88,1.12,1.24,0.98,1.06,0.92,1.16,0.84,1.1,1.0,1.22,0.96,1.12,1.04,0.9,1.16,
0.96,1.08,0.84,1.14,1.0,0.9,1.2,0.78,1.04,0.94,1.12,1.0,0.86,1.16,0.74,1.06,0.92,1.1,0.98,1.18,
1.0,1.14,0.92,1.06,1.2,0.88,1.1,1.02,1.24,0.96,1.12,0.86,1.18,1.04,0.94,1.28,1.0,1.08,0.9,1.12,
1.1,0.96,1.2,1.04,0.9,1.14,1.0,1.26,0.94,1.08,1.16,0.88,1.06,0.98,1.22,1.02,0.84,1.12,1.18,0.96,
1.0,1.18,0.94,1.12,1.04,0.88,1.22,1.0,1.14,0.92,1.28,1.06,0.96,1.1,0.82,1.16,1.02,1.2,0.9,1.08,
1.04,1.2,0.92,1.12,1.26,1.0,1.16,0.88,1.08,1.22,0.96,1.14,1.04,0.84,1.18,1.1,0.94,1.24,1.0,1.12,
1.08,0.92,1.16,0.82,1.04,1.2,0.96,1.1,0.88,1.14,1.02,0.76,1.12,0.94,1.06,1.22,0.9,1.0,1.16,0.96,
1.02,0.88,1.12,0.96,1.24,0.82,1.08,1.0,0.9,1.18,0.96,1.06,0.78,1.16,1.04,0.92,1.2,0.98,1.1,0.86,
1.06,0.94,1.2,1.0,0.84,1.12,0.96,1.16,0.8,1.08,1.02,0.9,1.24,0.98,1.04,0.78,1.14,0.92,1.1,1.0,
0.96,1.12,0.86,1.06,1.2,0.94,1.08,0.82,1.16,1.0,0.9,1.12,0.74,1.04,1.18,0.92,1.1,1.02,0.88,1.14,
1.02,1.16,0.9,1.1,0.96,1.24,0.86,1.04,1.14,0.94,1.08,0.78,1.2,1.0,0.92,1.12,1.04,1.28,0.96,1.08,
1.1,0.94,1.18,1.04,0.88,1.24,1.0,1.12,0.92,1.2,1.06,0.84,1.16,0.98,1.3,1.04,0.94,1.14,1.08,0.9,
1.02,0.9,1.16,0.96,0.8,1.1,1.0,0.88,1.2,0.94,1.06,0.76,1.12,1.0,0.86,1.18,0.96,1.08,0.72,1.04,
0.94,1.1,0.84,1.16,1.0,0.92,1.12,0.78,1.06,0.96,1.24,0.88,1.02,1.14,0.82,1.08,0.98,1.18,0.9,1.04,
1.12,1.0,0.9,1.18,1.04,0.96,1.24,0.88,1.1,1.0,1.2,0.94,1.06,0.84,1.14,1.02,1.28,0.92,1.08,0.98,
1.04,0.92,1.16,0.84,1.08,0.98,1.22,0.9,1.12,1.02,0.8,1.18,0.96,1.06,0.88,1.14,1.0,0.92,1.2,1.04,
0.98,1.12,0.88,1.04,1.18,0.92,1.08,0.8,1.16,1.0,0.9,1.1,0.84,1.2,0.96,1.04,0.76,1.12,1.02,0.9,
1.02,0.88,1.12,0.96,0.82,1.16,1.04,0.92,1.08,0.78,1.18,0.98,0.88,1.1,1.0,0.74,1.14,0.94,1.06,0.86,
0.96,1.08,0.84,1.16,0.92,1.04,0.78,1.12,0.98,0.88,1.2,0.94,1.06,0.82,1.1,1.0,0.9,1.16,0.86,1.04,
1.02,0.88,1.1,0.94,1.16,0.82,1.04,0.96,1.12,0.78,1.08,0.9,1.0,1.2,0.86,1.06,0.72,1.12,0.92,1.0,
0.94,1.1,0.86,1.04,0.76,1.14,0.96,1.06,0.88,1.18,1.0,0.82,1.12,0.92,1.04,0.74,1.16,0.98,1.08,0.88,
1.0,1.16,0.92,1.08,0.82,1.2,1.02,0.94,1.12,0.88,1.24,0.98,1.06,0.84,1.14,1.04,0.94,1.18,1.0,1.1,
1.06,0.94,1.16,0.86,1.08,1.0,1.22,0.92,1.12,0.8,1.04,1.18,0.96,1.1,0.88,1.14,1.02,0.9,1.2,1.0,
1.04,1.16,0.96,1.24,1.06,0.9,1.14,1.0,1.2,0.94,1.1,1.28,1.02,0.88,1.18,1.08,0.96,1.22,1.04,1.12,
1.1,0.96,1.2,1.02,0.9,1.14,1.06,1.24,0.94,1.12,1.0,0.84,1.18,1.04,0.92,1.22,0.98,1.08,0.88,1.16,
1.02,0.88,1.12,0.78,1.06,0.96,1.16,0.84,1.0,0.92,1.1,0.76,1.04,1.18,0.9,1.0,0.82,1.12,0.96,1.06,
0.96,1.12,0.9,1.2,1.02,0.86,1.14,1.0,0.94,1.24,1.06,0.82,1.1,0.96,1.16,1.02,0.88,1.2,1.04,0.92,
1.08,0.94,1.18,1.0,0.88,1.24,1.04,0.96,1.14,0.84,1.1,1.2,0.98,1.06,0.9,1.28,1.02,0.92,1.12,1.04,
0.98,1.12,0.88,1.16,1.04,0.94,1.24,1.0,0.84,1.14,1.06,0.96,1.2,0.9,1.1,1.02,1.28,0.92,1.08,0.98,
1.06,0.92,1.18,1.0,1.1,0.86,1.2,0.96,1.12,1.04,0.82,1.16,0.98,1.08,0.9,1.22,1.02,0.94,1.12,1.0,
0.96,1.1,0.88,1.16,0.98,1.06,0.8,1.12,1.02,0.92,1.18,0.86,1.08,0.96,1.2,0.9,1.04,0.78,1.14,1.0,
0.92,1.04,0.82,1.1,0.88,0.96,1.16,0.78,1.0,0.9,1.12,0.84,0.96,1.06,0.76,1.02,0.88,1.14,0.92,0.98];
const fragmentOutliers = [
[58350,1.65],[58360,1.75],[58600,1.55],[58610,1.45],[58750,1.5],[59880,2.73],[60080,1.57],[59950,1.48],
[60380,1.48],[59550,1.42],[60020,1.45],[61440,1.42],[61670,1.4],[58330,1.38],[59280,1.4],[60450,1.4],
[61900,0.3],[61901,0.35],[61902,0.4],[61903,0.45],[58500,0.35],[58502,0.4],[58505,0.5],[58750,0.45],
[58752,0.5],[58980,0.4],[60070,0.48],[60300,0.45],[60750,0.45],[60800,0.42],[61000,0.55],[61330,0.55]];

// density curves (Histogram panel)
const densX = [0.2,0.25,0.3,0.35,0.4,0.45,0.5,0.55,0.6,0.65,0.7,0.75,0.8,0.85,0.9,0.95,1.0,1.05,1.1,1.15,1.2,
  1.25,1.3,1.35,1.4,1.45,1.5,1.55,1.6,1.65,1.7,1.75,1.8,1.85,1.9,1.95,2.0,2.05,2.1,2.15,2.2,2.25,2.3,2.35];
const densMedian = [0.12,0.195,0.27,0.345,0.42,0.5,0.57,0.62,0.655,0.68,0.72,0.77,0.84,0.9,0.92,0.935,0.948,0.965,0.958,0.943,0.93,
  0.93,0.92,0.875,0.765,0.61,0.46,0.33,0.23,0.15,0.094,0.055,0.03,0.013,0.005,0.002,0.001,0,0,0,0,0,0,0];
const densLoess = [0,0,0.001,0.004,0.011,0.028,0.06,0.115,0.2,0.33,0.55,0.85,1.22,1.62,1.95,2.12,2.21,2.16,1.97,1.53,1.0,
  0.68,0.47,0.3,0.17,0.1,0.058,0.05,0.042,0.022,0.01,0.006,0.004,0.003,0.003,0.003,0.003,0.002,0.002,0.002,0.002,0.002,0.002,0.002];
const densFragment = [0,0,0,0.002,0.005,0.011,0.022,0.045,0.09,0.17,0.35,0.68,1.05,1.5,2.1,2.64,2.84,2.75,2.3,1.5,0.8,
  0.4,0.18,0.09,0.045,0.022,0.01,0.005,0.003,0.001,0,0,0,0,0,0,0,0,0,0,0,0,0,0];

// ---------- chart ----------
const FONT = '"Liberation Sans", Arial, Helvetica, sans-serif';
const INK = '#333';
const colors = ['#22a022', '#1f1fd0', '#ff1aff'];
const leftTops = [39, 284, 529];
function bins(ys, offset) {
  return ys.map((y, i) => [binStart + offset + i * binStep, y]);
}
const scatterData = [
  bins(observed, 0).concat(bins(observed2, binOffset2)),
  bins(loess, 0).concat(bins(loess2, binOffset2), loessOutliers),
  bins(fragment, 0).concat(bins(fragment2, binOffset2), fragmentOutliers)
];
const curves = [densMedian, densLoess, densFragment];

const lblStyle = {fontSize: 16, color: '#222', fontFamily: FONT};
const tickStyle = {show: true, length: 9, lineStyle: {color: INK, width: 1}};
const noLine = {show: false, onZero: false};

const grids = leftTops.map(t => ({left: 46, top: t, width: 584, height: 148.5,
  show: true, borderColor: INK, borderWidth: 1, backgroundColor: 'transparent'}));
grids.push({left: 726, top: 39, width: 357.6, height: 393.7, show: true, borderColor: INK, borderWidth: 1, backgroundColor: 'transparent'});

const xAxes = leftTops.map((t, i) => ({gridIndex: i, type: 'value', min: 57840, max: 62160,
  axisLine: noLine, splitLine: {show: false},
  axisTick: Object.assign({customValues: posTicks}, tickStyle),
  axisLabel: Object.assign({customValues: posTicks, margin: 21, formatter: v => String(v)}, lblStyle)}));
xAxes.push({gridIndex: 3, type: 'value', min: 0.119, max: 2.28,
  axisLine: noLine, splitLine: {show: false},
  axisTick: Object.assign({customValues: densXTicks}, tickStyle),
  axisLabel: Object.assign({customValues: densXTicks, margin: 23, formatter: v => v.toFixed(1)}, lblStyle)});

const yAxes = leftTops.map((t, i) => ({gridIndex: i, type: 'value', min: -0.12, max: 3.12,
  axisLine: noLine, splitLine: {show: false},
  axisTick: Object.assign({customValues: valTicks}, tickStyle),
  axisLabel: Object.assign({customValues: valLabels, rotate: 90, margin: 16, formatter: v => v.toFixed(1)}, lblStyle)}));
yAxes.push({gridIndex: 3, type: 'value', min: -0.114, max: 2.958,
  axisLine: noLine, splitLine: {show: false},
  axisTick: Object.assign({customValues: densYTicks}, tickStyle),
  axisLabel: Object.assign({customValues: densYTicks, rotate: 90, margin: 19, formatter: v => v.toFixed(1)}, lblStyle)});

const series = scatterData.map((d, i) => ({type: 'scatter', xAxisIndex: i, yAxisIndex: i, data: d,
  symbol: 'circle', symbolSize: 3.6, itemStyle: {color: '#000', opacity: 1}, silent: true}));
curves.forEach((c, k) => {
  const s = {type: 'line', name: legendNames[k], xAxisIndex: 3, yAxisIndex: 3,
    data: densX.map((x, i) => [x, c[i]]), showSymbol: false, smooth: 0.35,
    lineStyle: {color: colors[k], width: 2}, itemStyle: {color: colors[k]}, silent: true, z: 3 + k};
  if (k === 0) s.markLine = {silent: true, symbol: 'none', label: {show: false},
    lineStyle: {color: '#e6e6e6', width: 1, type: 'solid'}, data: [{yAxis: 0}]};
  series.push(s);
});

const titleCenters = [[338, 12], [338, 257], [338, 502], [905, 12]];
const titles = panelTitles.map((t, i) => ({text: t, left: titleCenters[i][0], top: titleCenters[i][1],
  textAlign: 'center', padding: 0,
  textStyle: {fontSize: 19, fontWeight: 'bold', color: '#111', fontFamily: FONT}}));

const legendRowY = [90.7, 110, 129.3];
const graphics = [
  {type: 'text', left: 747, top: 42, style: {text: 'B', fontSize: 28, fontFamily: FONT, fill: '#111'}},
  {type: 'text', left: 668, top: 206, style: {text: "'", fontSize: 12, fontFamily: FONT, fill: '#444'}},
  {type: 'rect', shape: {x: 937.5, y: 71.5, width: 170, height: 77}, style: {fill: '#fff', stroke: INK, lineWidth: 1}, z: 10}
];
legendNames.forEach((n, k) => {
  graphics.push({type: 'line', shape: {x1: 952, y1: legendRowY[k], x2: 982, y2: legendRowY[k]},
    style: {stroke: colors[k], lineWidth: 2}, z: 11});
  graphics.push({type: 'text', x: 995, y: legendRowY[k], style: {text: n, fontSize: 16, fontFamily: FONT,
    fill: '#222', textVerticalAlign: 'middle', verticalAlign: 'middle'}, z: 11});
});

const chart = echarts.init(document.getElementById('c'), null, {renderer: 'canvas'});
chart.setOption({
  backgroundColor: '#fff', animation: false,
  title: titles, grid: grids, xAxis: xAxes, yAxis: yAxes, series: series, graphic: graphics
});
</script></body></html>
